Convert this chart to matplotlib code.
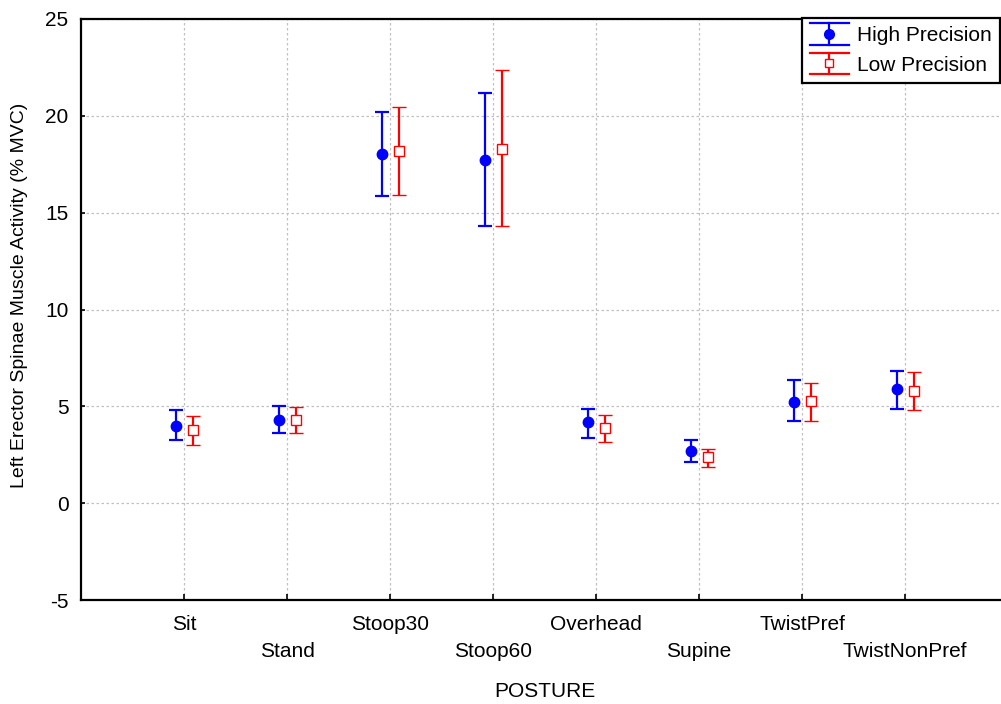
import numpy as np
import matplotlib.pyplot as plt
from matplotlib.lines import Line2D
from matplotlib.legend_handler import HandlerBase

plt.rcParams['font.family'] = ['Liberation Sans', 'DejaVu Sans']
plt.rcParams['axes.unicode_minus'] = False

postures = ['Sit', 'Stand', 'Stoop30', 'Stoop60', 'Overhead', 'Supine', 'TwistPref', 'TwistNonPref']

high_mean = [3.98, 4.29, 18.04, 17.73, 4.19, 2.71, 5.24, 5.88]
high_lo = [3.24, 3.62, 15.84, 14.31, 3.38, 2.14, 4.24, 4.85]
high_hi = [4.81, 5.03, 20.18, 21.16, 4.88, 3.26, 6.34, 6.84]

low_mean = [3.76, 4.31, 18.16, 18.27, 3.88, 2.40, 5.26, 5.79]
low_lo = [3.02, 3.62, 15.92, 14.31, 3.17, 1.88, 4.24, 4.79]
low_hi = [4.51, 4.95, 20.47, 22.36, 4.55, 2.80, 6.19, 6.79]


class ErrHandle(HandlerBase):
    # vertical bar with wide caps and the marker in the middle
    def __init__(self, color, marker, mfc, ms):
        super().__init__()
        self.color, self.marker, self.mfc, self.ms = color, marker, mfc, ms

    def create_artists(self, legend, orig_handle, xdescent, ydescent,
                       width, height, fontsize, trans):
        cx = width / 2 - xdescent
        y0, y1 = -ydescent - 0.25 * height, height - ydescent + 0.25 * height
        kw = dict(color=self.color, lw=1.6, transform=trans)
        arts = [Line2D([cx, cx], [y0, y1], **kw),
                Line2D([0, width], [y0, y0], **kw),
                Line2D([0, width], [y1, y1], **kw),
                Line2D([cx], [(y0 + y1) / 2], marker=self.marker, color=self.color,
                       mfc=self.mfc, ms=self.ms, mew=1.0, transform=trans)]
        return arts


fig = plt.figure(figsize=(10.01, 7.04), dpi=100)
ax = fig.add_axes([81 / 1001, 104 / 704, 927 / 1001, 581 / 704])

x = np.arange(1, len(postures) + 1)
hm, lm = np.array(high_mean), np.array(low_mean)
ax.errorbar(x - 0.08, hm, yerr=[hm - np.array(high_lo), np.array(high_hi) - hm],
            fmt='o', color='#0000ff', ms=7.5, elinewidth=1.6, capsize=5, capthick=1.6, zorder=3)
ax.errorbar(x + 0.085, lm, yerr=[lm - np.array(low_lo), np.array(low_hi) - lm],
            fmt='s', color='#ff0000', mfc='white', mec='#ff0000', ms=6.5, mew=1.0,
            elinewidth=1.6, capsize=5, capthick=1.6, zorder=3)

ax.set_xlim(0, 9)
ax.set_ylim(-5, 25)
ax.set_yticks(np.arange(-5, 26, 5))
ax.set_xticks(x)
ax.set_xticklabels([p if i % 2 == 0 else '\n' + p for i, p in enumerate(postures)],
                   fontsize=15, linespacing=1.5)
ax.tick_params(axis='y', labelsize=15, direction='in', length=3, width=1.2, pad=9)
ax.tick_params(axis='x', direction='in', length=4, width=1.2, pad=11)
ax.grid(True, color='#c0c0c0', linestyle=(0, (2, 2)), linewidth=0.9)
for s in ax.spines.values():
    s.set_linewidth(1.6)

ax.set_xlabel('POSTURE', fontsize=15, labelpad=15)
ax.set_ylabel('Left Erector Spinae Muscle Activity (% MVC)', fontsize=14)
ax.yaxis.set_label_coords(-0.057, 0.525)

h1 = Line2D([], [])
h2 = Line2D([], [])
leg = ax.legend([h1, h2], ['High Precision', 'Low Precision'],
                handler_map={h1: ErrHandle('#0000ff', 'o', '#0000ff', 7),
                             h2: ErrHandle('#ff0000', 's', 'white', 6)},
                loc='upper right', bbox_to_anchor=(1000 / 1001, 1 - 18 / 704),
                bbox_transform=fig.transFigure, borderaxespad=0, fancybox=False,
                edgecolor='black', framealpha=1, fontsize=15, handlelength=1.85,
                handletextpad=0.4, labelspacing=0.5, borderpad=0.4)
leg.get_frame().set_linewidth(1.6)

fig.savefig('out.png', dpi=100)
